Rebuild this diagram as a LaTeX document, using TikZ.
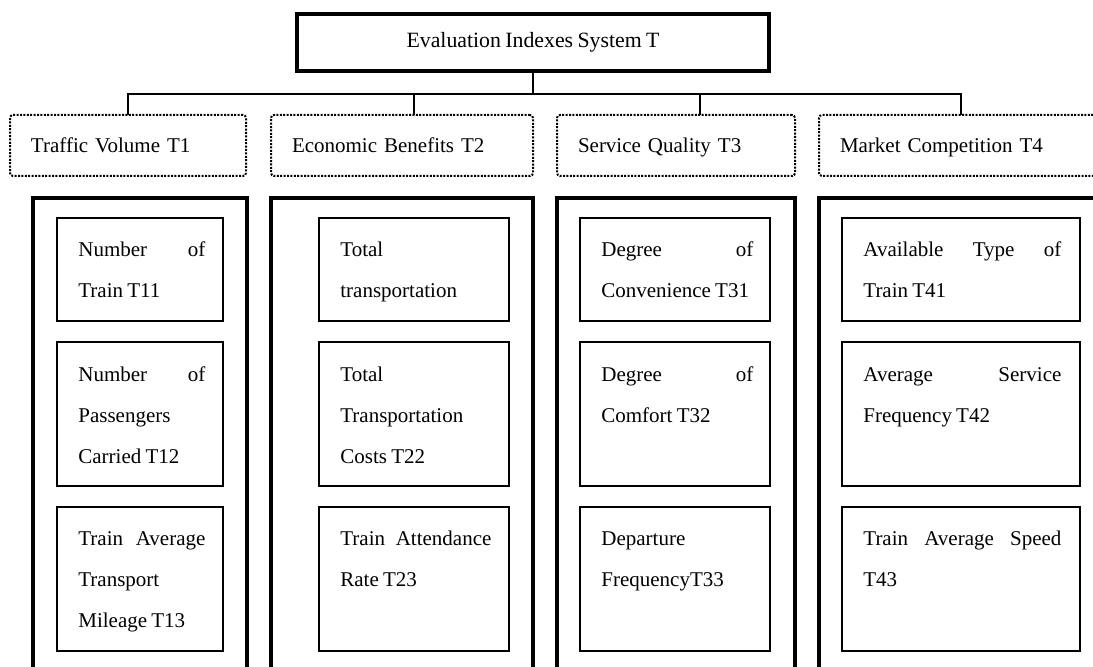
\documentclass[tikz,border=0pt]{standalone}
\usepackage{fontspec}
\setmainfont[WordSpace=0.8]{Liberation Serif}
\usepackage{tikz}

\tikzset{
  topbox/.style={draw, line width=2pt, minimum width=236pt, minimum height=28.5pt, inner sep=0pt,
    font=\fontsize{10.9pt}{13pt}\selectfont},
  headbox/.style={draw, line width=1pt, dash pattern=on 1pt off 0.7pt, rounded corners=1.5pt,
    minimum height=30.5pt, inner xsep=10.5pt, inner ysep=0pt, outer sep=0pt, align=left,
    text height=10pt, text depth=2.5pt, anchor=north west,
    font=\fontsize{10.5pt}{13pt}\selectfont},
  groupbox/.style={draw, line width=2pt, minimum height=260pt, outer sep=0pt, anchor=north west},
  rowbox/.style={draw, line width=0.8pt, outer sep=0pt, anchor=north west},
  rowtext/.style={inner sep=0pt, align=justify, anchor=base west,
    font=\fontsize{10.5pt}{20.5pt}\selectfont},
  link/.style={draw, line width=0.75pt}
}

\begin{document}
\begin{tikzpicture}[x=0.5pt,y=0.5pt,yscale=-1,xscale=1]
\useasboundingbox (0,0) rectangle (1093,667);
\clip (0,0) rectangle (1093,667);

%Shape: Rectangle (root)
\node [topbox] (top) at (533,42.5) {Evaluation Indexes System T};

%Shape: Dotted Rectangles (criteria)
\node [headbox, minimum width=118pt, text width=97pt] (h1) at (10,115) {Traffic Volume T1};
\node [headbox, minimum width=131pt, text width=110pt] (h2) at (271,115) {Economic Benefits T2};
\node [headbox, minimum width=119pt, text width=98pt] (h3) at (557,115) {Service Quality T3};
\node [headbox, minimum width=142pt, text width=121pt] (h4) at (819,115) {Market Competition T4};

%Straight Lines (tree)
\coordinate (j0) at (533,94);
\coordinate (j1) at (128,94);
\coordinate (j2) at (414,94);
\coordinate (j3) at (700,94);
\coordinate (j4) at (961,94);
\draw [link] (top.south) -- (j0);
\draw [link] (j1 |- h1.north) -- (j1) -- (j4) -- (j4 |- h4.north);
\draw [link] (j2) -- (j2 |- h2.north);
\draw [link] (j3) -- (j3 |- h3.north);

%Shape: Thick Rectangles (groups)
\node [groupbox, minimum width=107pt] (g1) at (33,198) {};
\node [groupbox, minimum width=131pt] (g2) at (271,198) {};
\node [groupbox, minimum width=119pt] (g3) at (557,198) {};
\node [groupbox, minimum width=142pt] (g4) at (819,198) {};

%Shape: Rectangles (T1 column)
\node [rowbox, minimum width=83pt, minimum height=51.5pt] (b11) at (57,218) {};
\node [rowbox, minimum width=83pt, minimum height=72pt] (b12) at (57,342) {};
\node [rowbox, minimum width=83pt, minimum height=72pt] (b13) at (57,507) {};
%Shape: Rectangles (T2 column)
\node [rowbox, minimum width=95pt, minimum height=51.5pt] (b21) at (319,218) {};
\node [rowbox, minimum width=95pt, minimum height=72pt] (b22) at (319,342) {};
\node [rowbox, minimum width=95pt, minimum height=72pt] (b23) at (319,507) {};
%Shape: Rectangles (T3 column)
\node [rowbox, minimum width=95pt, minimum height=51.5pt] (b31) at (580,218) {};
\node [rowbox, minimum width=95pt, minimum height=72pt] (b32) at (580,342) {};
\node [rowbox, minimum width=95pt, minimum height=72pt] (b33) at (580,507) {};
%Shape: Rectangles (T4 column)
\node [rowbox, minimum width=119pt, minimum height=51.5pt] (b41) at (842,218) {};
\node [rowbox, minimum width=119pt, minimum height=72pt] (b42) at (842,342) {};
\node [rowbox, minimum width=119pt, minimum height=72pt] (b43) at (842,507) {};

% Text Node
\node [rowtext, text width=63.5pt] (t11) at (78,257) {Number of\linebreak Train T11};
\node [rowtext, text width=63.5pt] (t12) at (78,382) {Number of\linebreak Passengers\\Carried T12};
\node [rowtext, text width=63.5pt] (t13) at (78,546) {Train Average\linebreak Transport\\Mileage T13};
% Text Node
\node [rowtext, text width=75.5pt] (t21) at (340,257) {Total\\transportation};
\node [rowtext, text width=75.5pt] (t22) at (340,382) {Total\\Transportation\\Costs T22};
\node [rowtext, text width=75.5pt] (t23) at (340,546) {Train Attendance\linebreak Rate T23};
% Text Node
\node [rowtext, text width=76pt] (t31) at (601,257) {Degree of\linebreak Convenience~T31};
\node [rowtext, text width=76pt] (t32) at (601,382) {Degree of\linebreak Comfort T32};
\node [rowtext, text width=76pt] (t33) at (601,546) {Departure\\FrequencyT33};
% Text Node
\node [rowtext, text width=99pt] (t41) at (863,257) {Available Type of\linebreak Train T41};
\node [rowtext, text width=99pt] (t42) at (863,382) {Average Service\linebreak Frequency T42};
\node [rowtext, text width=99pt] (t43) at (863,546) {Train Average Speed\linebreak T43};

\end{tikzpicture}
\end{document}
